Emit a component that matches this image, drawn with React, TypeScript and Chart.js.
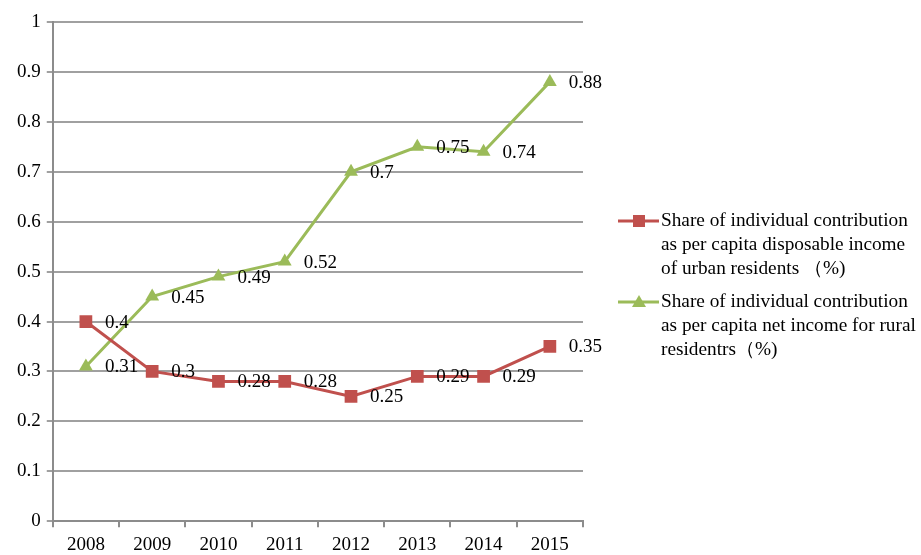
import React, { useEffect, useRef } from "react";
import { Chart, registerables } from "chart.js";

Chart.register(...registerables);

const years = ["2008", "2009", "2010", "2011", "2012", "2013", "2014", "2015"];
const urbanShare = [0.4, 0.3, 0.28, 0.28, 0.25, 0.29, 0.29, 0.35];
const ruralShare = [0.31, 0.45, 0.49, 0.52, 0.7, 0.75, 0.74, 0.88];
const urbanLabel = ["Share of individual contribution", "as per capita disposable income", "of urban residents （%)"];
const ruralLabel = ["Share of individual contribution", "as per capita net income for rural", "residentrs（%)"];

const RED = "#C0504D";
const GREEN = "#9BBB59";
const FONT = "'Liberation Serif', 'DejaVu Serif', serif";

const dataLabelPlugin = {
  id: "dataLabels",
  afterDatasetsDraw(chart: any) {
    const ctx = chart.ctx;
    ctx.save();
    ctx.font = `19px ${FONT}`;
    ctx.fillStyle = "#000";
    ctx.textAlign = "left";
    ctx.textBaseline = "middle";
    chart.data.datasets.forEach((ds: any, i: number) => {
      const meta = chart.getDatasetMeta(i);
      meta.data.forEach((pt: any, j: number) => {
        ctx.fillText(String(ds.data[j]), pt.x + 19, pt.y + 1);
      });
    });
    ctx.restore();
  },
};

const legendPlugin = {
  id: "sideLegend",
  afterDraw(chart: any) {
    const ctx = chart.ctx;
    const items = [
      { color: RED, style: "rect", lines: urbanLabel, y: 221 },
      { color: GREEN, style: "triangle", lines: ruralLabel, y: 302 },
    ];
    ctx.save();
    items.forEach((it) => {
      ctx.strokeStyle = it.color;
      ctx.lineWidth = 3;
      ctx.beginPath();
      ctx.moveTo(618, it.y);
      ctx.lineTo(659, it.y);
      ctx.stroke();
      ctx.fillStyle = it.color;
      if (it.style === "rect") {
        ctx.fillRect(633, it.y - 6, 12, 12);
      } else {
        ctx.beginPath();
        ctx.moveTo(639, it.y - 7);
        ctx.lineTo(646, it.y + 5);
        ctx.lineTo(632, it.y + 5);
        ctx.closePath();
        ctx.fill();
      }
      ctx.fillStyle = "#000";
      ctx.font = `19.3px ${FONT}`;
      ctx.textAlign = "left";
      ctx.textBaseline = "middle";
      it.lines.forEach((l, k) => ctx.fillText(l, 661, it.y + k * 24));
    });
    ctx.restore();
  },
};

export default function App() {
  const ref = useRef<HTMLCanvasElement>(null);
  useEffect(() => {
    document.body.style.margin = "0";
    const chart = new Chart(ref.current!, {
      type: "line",
      data: {
        labels: years,
        datasets: [
          {
            label: urbanLabel.join(" "),
            data: urbanShare,
            borderColor: RED,
            backgroundColor: RED,
            borderWidth: 3,
            pointStyle: "rect",
            pointRadius: 9,
            pointBorderWidth: 0,
            tension: 0,
          },
          {
            label: ruralLabel.join(" "),
            data: ruralShare,
            borderColor: GREEN,
            backgroundColor: GREEN,
            borderWidth: 3,
            pointStyle: "triangle",
            pointRadius: 8,
            pointBorderWidth: 0,
            tension: 0,
          },
        ],
      },
      options: {
        animation: false,
        responsive: false,
        layout: { padding: { top: 22, right: 338, left: 11, bottom: 0 } },
        plugins: { legend: { display: false }, tooltip: { enabled: false } },
        scales: {
          x: {
            offset: true,
            grid: {
              offset: true,
              drawOnChartArea: false,
              drawTicks: true,
              tickLength: 6,
              color: "#8C8C8C",
              lineWidth: 2,
            },
            border: { color: "#8C8C8C", width: 2 },
            ticks: { color: "#000", font: { family: FONT, size: 19 }, padding: 6, maxRotation: 0 },
          },
          y: {
            min: 0,
            max: 1,
            grid: { color: "#A0A0A0", lineWidth: 2, tickLength: 6 },
            border: { color: "#8C8C8C", width: 2 },
            ticks: {
              stepSize: 0.1,
              color: "#000",
              font: { family: FONT, size: 19 },
              padding: 6,
              callback: (v: any) => String(Math.round(Number(v) * 10) / 10),
            },
          },
        },
      },
      plugins: [dataLabelPlugin, legendPlugin],
    });
    return () => chart.destroy();
  }, []);
  return (
    <div style={{ width: 921, height: 555, overflow: "hidden", background: "#fff" }}>
      <canvas ref={ref} width={921} height={562} style={{ width: 921, height: 562, display: "block" }} />
    </div>
  );
}
